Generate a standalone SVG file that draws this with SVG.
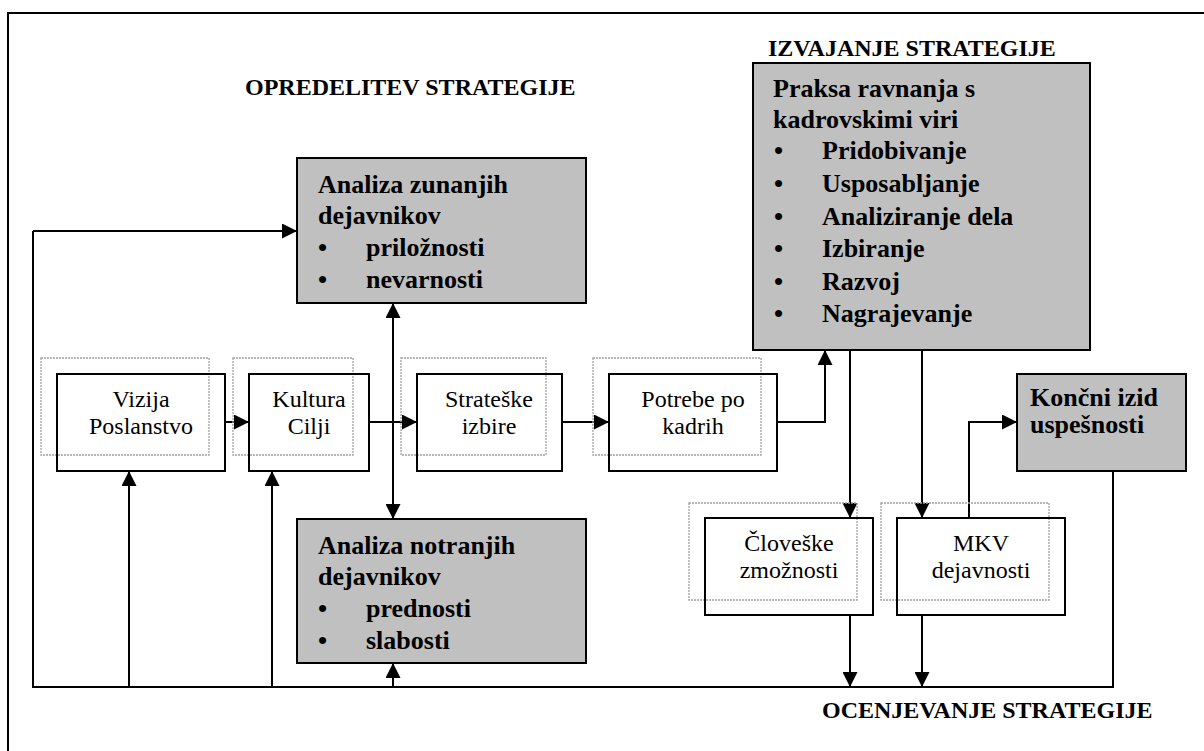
<svg xmlns="http://www.w3.org/2000/svg" width="1204" height="751" viewBox="0 0 1204 751">
  <style>
    .frame { fill: none; stroke: #000; stroke-width: 2; }
    .box { fill: none; stroke: #000; stroke-width: 2; }
    .gbox { fill: #c0c0c0; stroke: #000; stroke-width: 2; }
    .shadow { fill: none; stroke: #a0a0a0; stroke-width: 1.3; stroke-dasharray: 2 1; }
    .wire { fill: none; stroke: #000; stroke-width: 2; }
    .arr { marker-end: url(#ah); }
    .both { marker-start: url(#ah); marker-end: url(#ah); }
    text { font-family: 'Liberation Serif', 'DejaVu Serif', serif; fill: #000; }
    .t { font-size: 24px; }
    .c { text-anchor: middle; }
    .b { font-weight: bold; font-size: 26px; }
    .h { font-size: 24px; font-weight: bold; }
  </style>
  <defs>
    <marker id="ah" markerUnits="userSpaceOnUse" markerWidth="15" markerHeight="15" refX="15" refY="7.5" orient="auto-start-reverse">
      <path d="M0,0 L15,7.5 L0,15 z" fill="#000"/>
    </marker>
  </defs>

  <rect width="1204" height="751" fill="#fff"/>

  <!-- page frame -->
  <path class="frame" d="M8,751 V13 H1204"/>

  <!-- section headings -->
  <text class="h" x="245" y="95">OPREDELITEV STRATEGIJE</text>
  <text class="h" x="768" y="56">IZVAJANJE STRATEGIJE</text>
  <text class="h" x="822" y="718">OCENJEVANJE STRATEGIJE</text>

  <!-- connectors -->
  <g id="connectors">
    <path class="wire arr" d="M225,422 H249"/>
    <path class="wire arr" d="M369,422 H417"/>
    <path class="wire arr" d="M562,422 H609"/>
    <path class="wire both" d="M393,303 V519"/>
    <path class="wire arr" d="M393,687 V663"/>
    <path class="wire arr" d="M777,422 H825 V350"/>
    <path class="wire arr" d="M850,350 V518"/>
    <path class="wire arr" d="M922,350 V518"/>
    <path class="wire arr" d="M969,518 V422 H1017"/>
    <path class="wire arr" d="M850,615 V687"/>
    <path class="wire arr" d="M922,615 V687"/>
    <path class="wire" d="M1113,471 V687 H33 V231"/>
    <path class="wire arr" d="M33,231 H297"/>
    <path class="wire arr" d="M129,687 V471"/>
    <path class="wire arr" d="M272,687 V471"/>
  </g>

  <g id="zunanji">
    <rect class="gbox" x="297" y="158" width="289" height="145"/>
    <text class="t b" x="318" y="193">Analiza zunanjih</text>
    <text class="t b" x="318" y="224">dejavnikov</text>
    <text class="t b" x="318" y="256">•</text>
    <text class="t b" x="366" y="256">priložnosti</text>
    <text class="t b" x="318" y="288">•</text>
    <text class="t b" x="366" y="288">nevarnosti</text>
  </g>

  <g id="notranji">
    <rect class="gbox" x="297" y="519" width="289" height="144"/>
    <text class="t b" x="318" y="554">Analiza notranjih</text>
    <text class="t b" x="318" y="585">dejavnikov</text>
    <text class="t b" x="318" y="617">•</text>
    <text class="t b" x="366" y="617">prednosti</text>
    <text class="t b" x="318" y="649">•</text>
    <text class="t b" x="366" y="649">slabosti</text>
  </g>

  <g id="praksa">
    <rect class="gbox" x="753" y="63" width="337" height="287"/>
    <text class="t b" x="773" y="97">Praksa ravnanja s</text>
    <text class="t b" x="773" y="128">kadrovskimi viri</text>
    <text class="t b" x="774" y="159">•</text>
    <text class="t b" x="822" y="159">Pridobivanje</text>
    <text class="t b" x="774" y="192">•</text>
    <text class="t b" x="822" y="192">Usposabljanje</text>
    <text class="t b" x="774" y="225">•</text>
    <text class="t b" x="822" y="225">Analiziranje dela</text>
    <text class="t b" x="774" y="257">•</text>
    <text class="t b" x="822" y="257">Izbiranje</text>
    <text class="t b" x="774" y="290">•</text>
    <text class="t b" x="822" y="290">Razvoj</text>
    <text class="t b" x="774" y="322">•</text>
    <text class="t b" x="822" y="322">Nagrajevanje</text>
  </g>

  <g id="vizija">
    <rect class="shadow" x="41" y="358" width="168" height="97"/>
    <rect class="box" x="57" y="374" width="168" height="97"/>
    <text class="t c" x="141" y="407">Vizija</text>
    <text class="t c" x="141" y="434">Poslanstvo</text>
  </g>

  <g id="kultura">
    <rect class="shadow" x="233" y="358" width="120" height="97"/>
    <rect class="box" x="249" y="374" width="120" height="97"/>
    <text class="t c" x="309" y="407">Kultura</text>
    <text class="t c" x="309" y="434">Cilji</text>
  </g>

  <g id="izbire">
    <rect class="shadow" x="401" y="358" width="145" height="97"/>
    <rect class="box" x="417" y="374" width="145" height="97"/>
    <text class="t c" x="489" y="407">Strateške</text>
    <text class="t c" x="489" y="434">izbire</text>
  </g>

  <g id="potrebe">
    <rect class="shadow" x="593" y="358" width="168" height="97"/>
    <rect class="box" x="609" y="374" width="168" height="97"/>
    <text class="t c" x="693" y="407">Potrebe po</text>
    <text class="t c" x="693" y="434">kadrih</text>
  </g>

  <g id="zmoznosti">
    <rect class="shadow" x="689" y="503" width="168" height="97"/>
    <rect class="box" x="705" y="518" width="168" height="97"/>
    <text class="t c" x="789" y="551">Človeške</text>
    <text class="t c" x="789" y="578">zmožnosti</text>
  </g>

  <g id="mkv">
    <rect class="shadow" x="881" y="503" width="168" height="97"/>
    <rect class="box" x="897" y="518" width="168" height="97"/>
    <text class="t c" x="981" y="551">MKV</text>
    <text class="t c" x="981" y="578">dejavnosti</text>
  </g>

  <g id="izid">
    <rect class="gbox" x="1017" y="374" width="169" height="97"/>
    <text class="t b" x="1030" y="406">Končni izid</text>
    <text class="t b" x="1030" y="433">uspešnosti</text>
  </g>
</svg>
